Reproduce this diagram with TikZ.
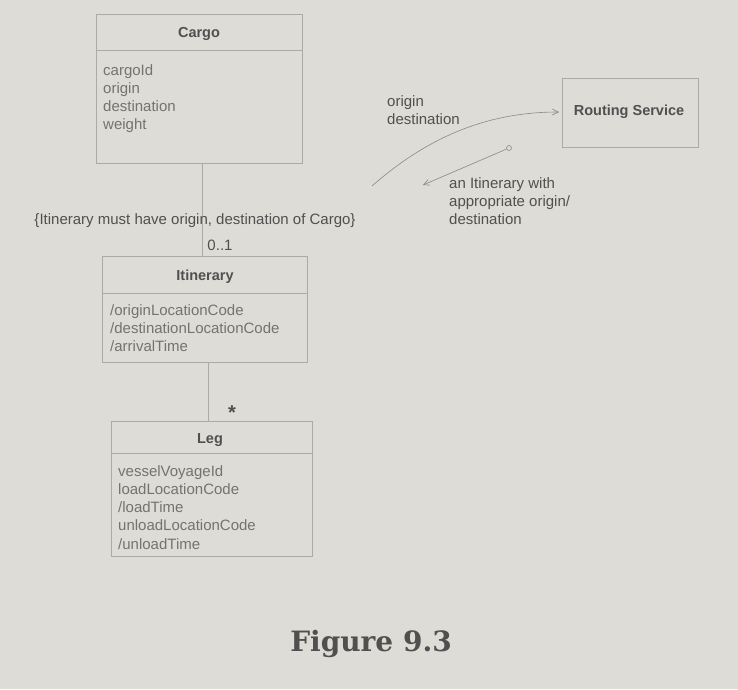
\documentclass[tikz,border=0pt]{standalone}
\usepackage{fontspec}
\setmainfont{Liberation Sans}
\newfontfamily\figfont{DejaVu Serif}
\usetikzlibrary{arrows.meta}
\definecolor{paper}{RGB}{221,220,214}
\definecolor{boxline}{RGB}{170,170,166}
\definecolor{ink}{RGB}{80,80,80}
\definecolor{lightink}{RGB}{115,115,113}
\tikzset{
  cls/.style={draw=boxline, line width=0.8pt, fill=paper},
  ttl/.style={font=\bfseries\fontsize{14.5}{16}\selectfont, text=ink},
  attr/.style={font=\fontsize{15}{18.3}\selectfont, text=lightink, align=left, anchor=north west, inner sep=0pt},
  lbl/.style={font=\fontsize{15}{18}\selectfont, text=ink, align=left, inner sep=0pt},
  assoc/.style={draw=boxline, line width=0.8pt},
  msg/.style={draw=boxline!80!black, line width=0.6pt, -{Straight Barb[length=6pt,width=6pt]}}
}
\begin{document}
\begin{tikzpicture}[x=1pt,y=-1pt]
\fill[paper] (0,0) rectangle (738,689);
\useasboundingbox (0,0) rectangle (738,689);
% Cargo
\path[cls] (96,14) rectangle (302,163);
\draw[assoc] (96,50) -- (302,50);
\node[ttl] (cargoT) at (199,34) {Cargo};
\node[attr] (cargoA) at (103,64) {cargoId\\origin\\destination\\weight};
\coordinate (cargoB) at (202,163);
% Itinerary
\path[cls] (102,256) rectangle (307,362);
\draw[assoc] (102,293) -- (307,293);
\node[ttl] (itinT) at (205,277) {Itinerary};
\node[attr] (itinA) at (110,304) {/originLocationCode\\/destinationLocationCode\\/arrivalTime};
\coordinate (itinTop) at (202,256);
\coordinate (itinB) at (208,362);
% Leg
\path[cls] (111,421) rectangle (312,556);
\draw[assoc] (111,453) -- (312,453);
\node[ttl] (legT) at (210,440) {Leg};
\node[attr] (legA) at (118,465) {vesselVoyageId\\loadLocationCode\\/loadTime\\unloadLocationCode\\/unloadTime};
\coordinate (legTop) at (208,421);
% associations
\draw[assoc] (cargoB) -- (itinTop);
\draw[assoc] (itinB) -- (legTop);
\node[lbl] (constr) at (195,221) {\{Itinerary must have origin, destination of Cargo\}};
\node[lbl] (mult1) at (220,245) {0..1};
\node[lbl, font=\bfseries\fontsize{20}{20}\selectfont] (mult2) at (232,413) {*};
% Routing service
\node[draw=boxline, line width=0.8pt, fill=paper, minimum width=136pt, minimum height=69pt] (rs) at (630,112.5) {};
\node[ttl] (rsT) at (629,112) {Routing Service};
% messages
\coordinate (reqStart) at (372,186);
\coordinate (reqEnd) at (559,112);
\draw[msg] (reqStart) .. controls (430,135) and (490,112) .. (reqEnd);
\node[lbl, anchor=north west] (reqL) at (387,95) {origin\\destination};
\node[draw=boxline!80!black, circle, inner sep=0pt, minimum size=5pt, line width=0.6pt] (dot) at (509,148) {};
\coordinate (retEnd) at (423,185);
\draw[msg] (dot) -- (retEnd);
\node[lbl, anchor=north west] (retL) at (449,177) {an Itinerary with\\appropriate origin/\\destination};
% caption
\node[font=\figfont\bfseries\fontsize{28}{30}\selectfont, text=ink] (cap) at (371,644) {Figure 9.3};
\end{tikzpicture}
\end{document}
